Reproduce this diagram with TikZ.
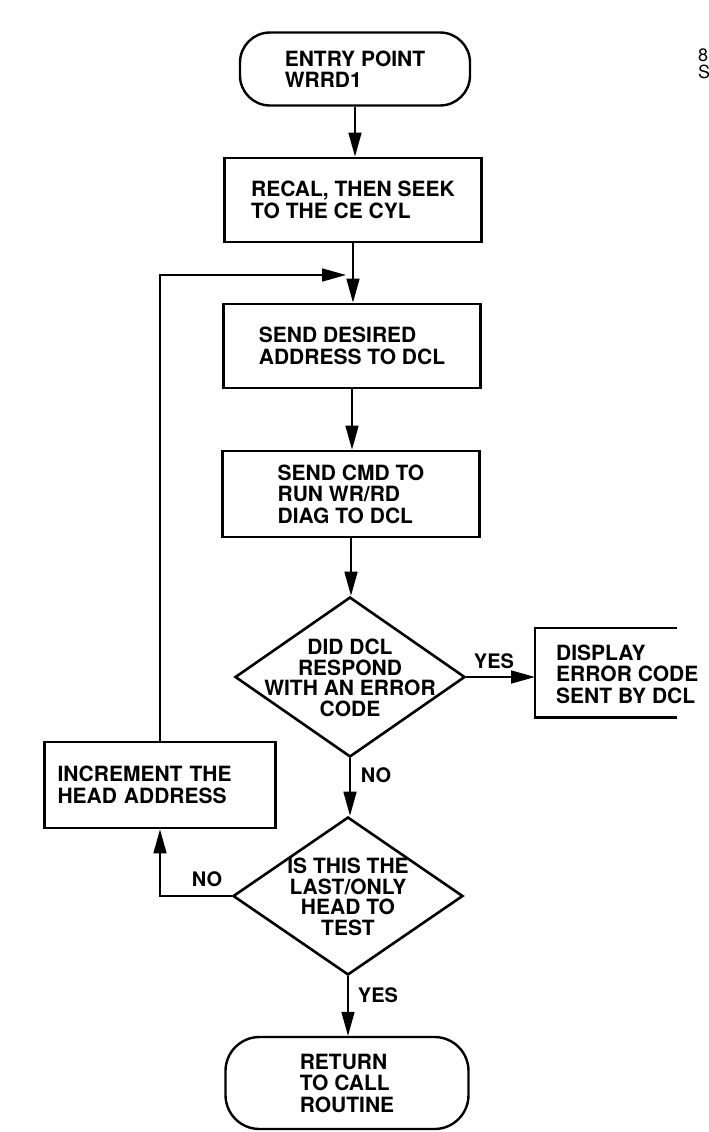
\documentclass[tikz,border=0pt]{standalone}
\usepackage{fontspec}
\setmainfont{TeX Gyre Heros}
\usetikzlibrary{shapes.geometric,arrows.meta}
\begin{document}
\begin{tikzpicture}[x=1pt,y=-1pt,
  txt/.style={font=\fontsize{21}{21.5}\selectfont\bfseries, align=left, inner sep=0pt},
  proc/.style={draw, line width=2.8pt, txt, minimum width=257pt, minimum height=85pt},
  term/.style={draw, line width=2.4pt, rounded corners=30pt, txt},
  dec/.style={draw, line width=2.6pt, diamond, inner sep=0pt},
  dect/.style={font=\fontsize{21}{20.5}\selectfont\bfseries, align=center, inner sep=0pt},
  flow/.style={line width=1.6pt, -{Triangle[length=24pt,width=13pt]}},
  lab/.style={font=\fontsize{20}{20}\selectfont\bfseries, inner sep=0pt}
]
\useasboundingbox (0,0) rectangle (709,1132);

% nodes
\node[term, minimum width=230pt, minimum height=73pt] (entry) at (355,69) {ENTRY POINT\\WRRD1};
\node[proc, minimum height=84pt] (box1) at (353,200) {RECAL, THEN SEEK\\TO THE CE CYL};
\node[proc, minimum height=84pt] (box2) at (352,346) {SEND DESIRED\\ADDRESS TO DCL};
\node[proc, minimum height=86pt] (box3) at (351,494) {SEND CMD TO\\RUN WR/RD\\DIAG TO DCL};
\node[dec, minimum width=230pt, minimum height=160pt] (d1) at (350,677) {};
\node[dect] (d1t) at (350,678) {DID DCL\\RESPOND\\WITH AN ERROR\\CODE};
\node[inner sep=0pt, minimum width=142pt, minimum height=89pt, anchor=north west] (disp) at (535,628) {};
\node[txt, anchor=west] (dispt) at (556,674) {DISPLAY\\ERROR CODE\\SENT BY DCL};
\node[draw, line width=2.8pt, txt, minimum width=231pt, minimum height=86pt, text width=205pt] (inc) at (160,785) {INCREMENT THE\\HEAD ADDRESS};
\node[dec, minimum width=230pt, minimum height=158pt] (d2) at (348,896) {};
\node[dect] (d2t) at (348,897) {IS THIS THE\\LAST/ONLY\\HEAD TO\\TEST};
\node[term, minimum width=243pt, minimum height=92pt, rounded corners=34pt] (ret) at (347,1083) {RETURN\\TO CALL\\ROUTINE};
\node[font=\fontsize{18}{17}\selectfont, align=left, inner sep=0pt, anchor=north west] (corner) at (698,49) {8\\S};

% open display frame
\draw[line width=2.6pt] (disp.north east) -- (disp.north west) -- (disp.south west) -- (disp.south east);

% connectors
\coordinate (j) at (346,275);
\draw[flow] (entry.south) -- (entry.south |- box1.north);
\draw[flow] (box1.south) -- (box1.south |- box2.north);
\draw[flow] (inc.north) |- (j);
\draw[flow] (box2.south) -- (box2.south |- box3.north);
\draw[flow] (box3.south) -- (box3.south |- d1.north);
\draw[flow] (d1.east) -- (d1.east -| disp.west);
\draw[flow] (d1.south) -- (d1.south |- d2.north);
\draw[flow] (d2.west) -| (inc.south);
\draw[flow] (d2.south) -- (d2.south |- ret.north);

% labels
\node[lab] (yes1) at (494,661) {YES};
\node[lab] (no1) at (376,775) {NO};
\node[lab] (no2) at (207,879) {NO};
\node[lab] (yes2) at (378,995) {YES};
\end{tikzpicture}
\end{document}
